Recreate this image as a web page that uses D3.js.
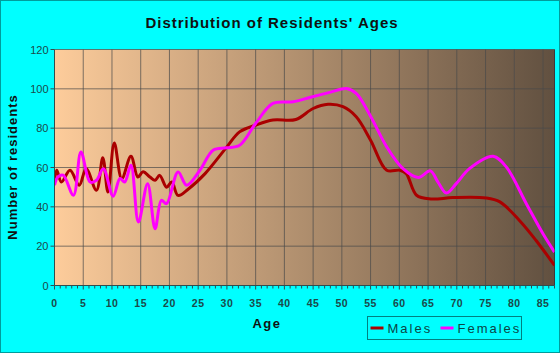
<!DOCTYPE html>
<html>
<head>
<meta charset="utf-8">
<script src="https://cdn.jsdelivr.net/npm/d3@7"></script>
<style>
  body { margin: 0; background: #00ffff; }
  svg { display: block; }
</style>
</head>
<body>
<div class="ages_chart"></div>
<script>
// values, (age, residents)
const maleAges = [0, 0.4, 1.2, 2.7, 4.3, 5.5, 7.3, 8.4, 9.3, 10.4, 11.7, 13.3, 14.5, 15.4, 16.6, 17.5,
  18.3, 19.5, 20.4, 21.5, 23.3, 26.2, 30, 32.2, 35, 38, 42, 45, 47.6, 50.2, 52.5, 55, 57.8, 60.1,
  61.2, 63, 65.5, 69.3, 75.1, 77.5, 80.9, 83.8, 87]
const maleValues = [53.5, 58.6, 52.6, 58.6, 51.0, 59.4, 48.4, 65.0, 47.5, 72.5, 54.4, 65.7, 55.2, 57.8, 55.2, 53.5,
  56.0, 50.0, 52.6, 45.8, 49.1, 56.9, 70.5, 78.1, 81.5, 84.1, 84.4, 90.0, 92.1, 90.9, 85.8, 73.9, 58.6, 58.6,
  56.9, 45.9, 44.0, 44.7, 44.5, 42.5, 33.1, 22.9, 10.2]

const femaleAges = [0, 0.6, 1.5, 3.3, 4.6, 6.2, 7.3, 8.5, 10.2, 11.4, 12.2, 13.3, 14.6, 16.2, 17.5, 18.6,
  19.5, 21.5, 23, 25.3, 27.6, 29.9, 32.2, 35, 38, 41.5, 44.4, 47.9, 50.8, 52.5, 54.9, 57.8, 60.6, 63.3,
  65.4, 66.7, 68.2, 69.9, 72.2, 76.3, 78.6, 82.1, 85, 87]
const femaleValues = [51.0, 55.2, 56.1, 45.9, 67.9, 52.6, 53.5, 59.4, 45.4, 54.4, 52.6, 61.1, 32.3, 51.8, 28.9, 43.3,
  41.6, 57.7, 51.0, 58.6, 68.8, 70.0, 71.3, 82.4, 92.6, 93.4, 95.6, 98.2, 100.2, 97.7, 86.6, 70.5, 59.5, 54.9,
  58.3, 52.7, 47.0, 51.8, 59.4, 65.7, 60.3, 41.6, 26.3, 17.0]

const xTicks = [0, 5, 10, 15, 20, 25, 30, 35, 40, 45, 50, 55, 60, 65, 70, 75, 80, 85]
const yTicks = [0, 20, 40, 60, 80, 100, 120]

const series = [
  {name: 'Males', color: '#aa0000', pts: maleAges.map((a, i) => [a, maleValues[i]])},
  {name: 'Females', color: '#ff00ff', pts: femaleAges.map((a, i) => [a, femaleValues[i]])}
]

const svg = d3.select(".ages_chart").append("svg")
  .attr("width", 560)
  .attr("height", 353)

const font = "'Liberation Sans', Arial, sans-serif"
const margin = {top: 49.5, right: 5.5, bottom: 67.5, left: 54.5}
const width = svg.attr('width') - margin.left - margin.right
const height = svg.attr('height') - margin.top - margin.bottom

svg.append('rect')
  .attr('x', 0.5).attr('y', 0.5)
  .attr('width', 559).attr('height', 352)
  .attr('fill', '#00ffff')
  .attr('stroke', '#009c9c')

const grad = svg.append('defs').append('linearGradient')
  .attr('id', 'bg').attr('x1', 0).attr('x2', 1).attr('y1', 0).attr('y2', 0)
grad.append('stop').attr('offset', 0).attr('stop-color', '#fdcc9b')
grad.append('stop').attr('offset', 1).attr('stop-color', '#615040')

svg.select('defs').append('clipPath').attr('id', 'clip')
  .append('rect').attr('width', width).attr('height', height)

const g = svg.append('g')
  .attr('transform', `translate(${margin.left}, ${margin.top})`)

const x = d3.scaleLinear().domain([0, 87]).range([0, width])
const y = d3.scaleLinear().domain([0, 120]).range([height, 0])

g.append('rect')
  .attr('width', width).attr('height', height)
  .attr('fill', 'url(#bg)')

// grid
g.selectAll('.vgrid').data(xTicks.slice(1)).enter().append('line')
  .attr('x1', d => x(d)).attr('x2', d => x(d))
  .attr('y1', 0).attr('y2', height)
  .attr('stroke', '#4a4a4a').attr('stroke-opacity', 0.7)
g.selectAll('.hgrid').data(yTicks.slice(1)).enter().append('line')
  .attr('x1', 0).attr('x2', width)
  .attr('y1', d => y(d)).attr('y2', d => y(d))
  .attr('stroke', '#4a4a4a').attr('stroke-opacity', 0.7)

g.append('line')
  .attr('x1', width).attr('x2', width).attr('y1', 0).attr('y2', height)
  .attr('stroke', '#3a3a3a')

// lines
const line = d3.line()
  .x(d => x(d[0]))
  .y(d => y(d[1]))
  .curve(d3.curveCatmullRom.alpha(0.5))

g.append('g').attr('clip-path', 'url(#clip)')
  .selectAll('path').data(series).enter().append('path')
  .attr('d', d => line(d.pts))
  .attr('fill', 'none')
  .attr('stroke', d => d.color)
  .attr('stroke-width', 3)
  .attr('stroke-linejoin', 'round')

// axes
g.append('line')
  .attr('x1', 0).attr('x2', 0).attr('y1', 0).attr('y2', height)
  .attr('stroke', '#2f4f4f')
g.append('line')
  .attr('x1', 0).attr('x2', width).attr('y1', height).attr('y2', height)
  .attr('stroke', '#2f4f4f')

g.selectAll('.ytick').data(yTicks).enter().append('line')
  .attr('x1', -4).attr('x2', 0)
  .attr('y1', d => y(d)).attr('y2', d => y(d))
  .attr('stroke', '#2f4f4f')
g.selectAll('.ylab').data(yTicks).enter().append('text')
  .attr('x', -6).attr('y', d => y(d) + 4)
  .attr('text-anchor', 'end')
  .attr('font-family', font).attr('font-size', '11px')
  .attr('fill', '#1c4a4a')
  .text(d => d)

g.selectAll('.xminor').data(d3.range(0, 88)).enter().append('line')
  .attr('x1', d => x(d)).attr('x2', d => x(d))
  .attr('y1', height).attr('y2', d => height + (d % 5 === 0 ? 4 : 3))
  .attr('stroke', '#2f4f4f')
g.selectAll('.xlab').data(xTicks).enter().append('text')
  .attr('x', d => x(d)).attr('y', height + 21)
  .attr('text-anchor', 'middle')
  .attr('font-family', font).attr('font-size', '10.5px').attr('font-weight', 'bold')
  .attr('letter-spacing', '0.5px')
  .attr('fill', '#1c4a4a')
  .text(d => d)

// titles
svg.append('text')
  .attr('x', 272).attr('y', 28)
  .attr('text-anchor', 'middle')
  .attr('font-family', font).attr('font-size', '15px').attr('font-weight', 'bold')
  .attr('letter-spacing', '1px')
  .attr('fill', '#111')
  .text("Distribution of Residents' Ages")

svg.append('text')
  .attr('x', 267).attr('y', 328)
  .attr('text-anchor', 'middle')
  .attr('font-family', font).attr('font-size', '13px').attr('font-weight', 'bold')
  .attr('letter-spacing', '1.5px')
  .attr('fill', '#111')
  .text('Age')

svg.append('text')
  .attr('transform', 'translate(17, 167) rotate(-90)')
  .attr('text-anchor', 'middle')
  .attr('font-family', font).attr('font-size', '13px').attr('font-weight', 'bold')
  .attr('letter-spacing', '1px')
  .attr('fill', '#111')
  .text('Number of residents')

// legend
const legend = svg.append('g').attr('transform', 'translate(367.5, 316.5)')
legend.append('rect')
  .attr('width', 154).attr('height', 23)
  .attr('fill', 'none').attr('stroke', '#008080')
const items = legend.selectAll('.item').data(series).enter().append('g')
  .attr('transform', (d, i) => `translate(${i === 0 ? 3 : 73}, 11.5)`)
items.append('line')
  .attr('x1', 0).attr('x2', 13).attr('y1', 0).attr('y2', 0)
  .attr('stroke', d => d.color).attr('stroke-width', 3)
items.append('text')
  .attr('x', 17).attr('y', 5)
  .attr('font-family', font).attr('font-size', '13px')
  .attr('letter-spacing', '2px')
  .attr('fill', '#0b4545')
  .text(d => d.name)
</script>
</body>
</html>
